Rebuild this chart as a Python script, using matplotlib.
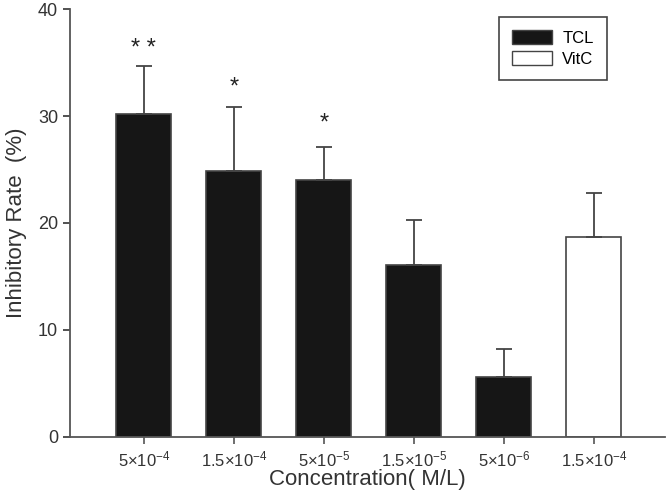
import numpy as np
import matplotlib.pyplot as plt
from matplotlib.patches import Patch

plt.rcParams["font.family"] = ["Liberation Sans", "DejaVu Sans"]
plt.rcParams["mathtext.fontset"] = "custom"
plt.rcParams["mathtext.rm"] = "Liberation Sans"
plt.rcParams["mathtext.it"] = "Liberation Sans:italic"
plt.rcParams["mathtext.default"] = "regular"

labels = [r"$5{\times}10^{-4}$", r"$1.5{\times}10^{-4}$", r"$5{\times}10^{-5}$",
          r"$1.5{\times}10^{-5}$", r"$5{\times}10^{-6}$", r"$1.5{\times}10^{-4}$"]
groups = ["TCL", "TCL", "TCL", "TCL", "TCL", "VitC"]
values = [30.2, 24.9, 24.0, 16.1, 5.6, 18.7]
errors = [4.5, 6.0, 3.1, 4.2, 2.65, 4.1]
stars = ["* *", "*", "*", "", "", ""]
star_y = [36.3, 32.7, 29.3, 0, 0, 0]

fill = {"TCL": "#161616", "VitC": "white"}
edge = "#444444"

fig = plt.figure(figsize=(6.68, 4.9), dpi=100)
ax = fig.add_axes([0.1048, 0.1088, 0.8907, 0.8722])

x = np.arange(len(values))
colors = [fill[g] for g in groups]
ax.bar(x, values, width=0.61, color=colors, edgecolor=edge, linewidth=1.2, zorder=2)
ax.errorbar(x, values, yerr=[np.zeros(len(errors)), errors], fmt="none",
            ecolor=edge, elinewidth=1.3, capsize=6, capthick=1.3, zorder=3)

for xi, s, sy in zip(x, stars, star_y):
    if s:
        ax.text(xi, sy, s, ha="center", va="center", fontsize=17, color="#222222")

ax.set_xlim(-0.82, 5.79)
ax.set_ylim(0, 40)
ax.set_yticks([0, 10, 20, 30, 40])
ax.set_xticks(x)
ax.set_xticklabels(labels, fontsize=12, color="#333333")
ax.tick_params(axis="y", labelsize=13, colors="#333333", length=5, width=1.2, direction="out")
ax.tick_params(axis="x", length=5, width=1.2, direction="out", colors="#555555",
               labelcolor="#333333", pad=4)

for side in ["top", "right"]:
    ax.spines[side].set_visible(False)
for side in ["left", "bottom"]:
    ax.spines[side].set_color("#555555")
    ax.spines[side].set_linewidth(1.3)

ax.set_ylabel("Inhibitory Rate  (%)", fontsize=16, color="#333333", labelpad=8)
ax.set_xlabel("Concentration( M/L)", fontsize=16, color="#333333", labelpad=0)

handles = [Patch(facecolor=fill["TCL"], edgecolor=edge, label="TCL"),
           Patch(facecolor=fill["VitC"], edgecolor=edge, label="VitC")]
leg = ax.legend(handles=handles, loc="upper left", bbox_to_anchor=(0.721, 0.982),
                borderaxespad=0, fontsize=12, fancybox=False, framealpha=1,
                edgecolor="#444444", handlelength=2.4, handleheight=0.9,
                borderpad=0.8, labelspacing=0.3, handletextpad=0.6)
leg.get_frame().set_linewidth(1.2)

fig.savefig("out.png", dpi=100)
